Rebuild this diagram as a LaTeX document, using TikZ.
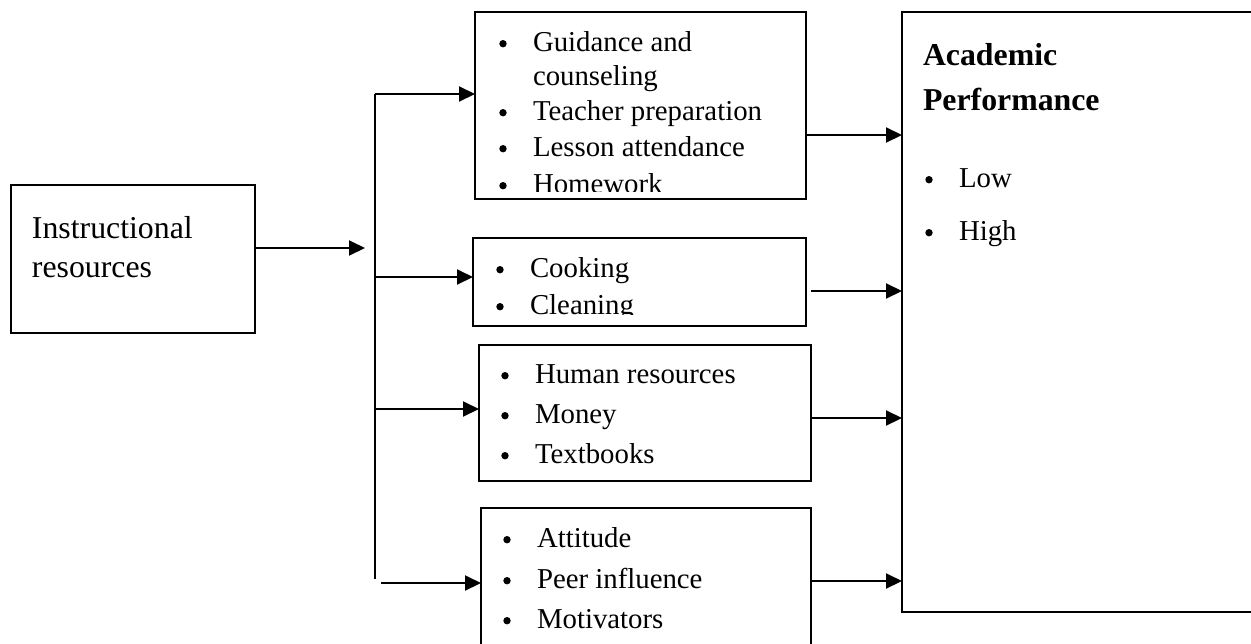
\documentclass[tikz,border=0pt]{standalone}
\usepackage{fontspec}
\setmainfont{Liberation Serif}
\usetikzlibrary{arrows.meta}
\newcommand\mybul{\makebox[17.5pt][l]{\hspace{0.65pt}\tikz[baseline=0pt]\fill (0pt,3.65pt) circle (1.85pt);}}
\begin{document}
\begin{tikzpicture}[x=0.5pt,y=-0.5pt,
  box/.style={draw, line width=1pt, anchor=north west, inner sep=0pt, outer sep=0pt},
  txt/.style={anchor=base west, inner sep=0pt, outer sep=0pt, font=\fontsize{14.4}{17}\selectfont},
  big/.style={anchor=base west, inner sep=0pt, outer sep=0pt, font=\fontsize{15.9}{19}\selectfont},
  bigb/.style={big, font=\fontsize{15.9}{19}\selectfont\bfseries},
  arr/.style={line width=1pt, -{Triangle[length=8pt,width=7.5pt]}},
  ln/.style={line width=1pt}]
\useasboundingbox (0,0) rectangle (1251,643);
\clip (0,0) rectangle (1251,643);

% boxes
\node[box, minimum width=122pt, minimum height=74pt] (inst) at (11,185) {};
\node[box, minimum width=165.5pt, minimum height=93.5pt] (b1) at (475,12) {};
\node[box, minimum width=166.5pt, minimum height=44pt] (b2) at (473,238) {};
\node[box, minimum width=166pt, minimum height=68pt] (b3) at (479,345) {};
\node[box, minimum width=165pt, minimum height=100pt] (b4) at (481,508) {};
\node[box, minimum width=200pt, minimum height=300pt] (acad) at (902,12) {};

% texts
\node[big] (t0a) at (32,238) {Instructional};
\node[big] (t0b) at (32,277) {resources};

\node[txt] (t1a) at (498,51) {\mybul Guidance and};
\node[txt] (t1b) at (533,85) {counseling};
\node[txt] (t1c) at (498,120) {\mybul Teacher preparation};
\node[txt] (t1d) at (498,156) {\mybul Lesson attendance};
\begin{scope}
\clip (475,12) rectangle (806,191);
\node[txt] (t1e) at (498,193) {\mybul Homework};
\end{scope}

\node[txt] (t2a) at (495,277) {\mybul Cooking};
\begin{scope}
\clip (473,238) rectangle (806,314);
\node[txt] (t2b) at (495,314) {\mybul Cleaning};
\end{scope}

\node[txt] (t3a) at (500,383) {\mybul Human resources};
\node[txt] (t3b) at (500,423) {\mybul Money};
\node[txt] (t3c) at (500,463) {\mybul Textbooks};

\node[txt] (t4a) at (502,547) {\mybul Attitude};
\node[txt] (t4b) at (502,588) {\mybul Peer influence};
\node[txt] (t4c) at (502,628) {\mybul Motivators};

\node[bigb] (t5a) at (923,65) {Academic};
\node[bigb] (t5b) at (923,110) {Performance};
\node[txt] (t5c) at (924,187) {\mybul Low};
\node[txt] (t5d) at (924,240) {\mybul High};

% connector points
\coordinate (j0) at (365,248);
\coordinate (vtop) at (375,94);
\coordinate (vbot) at (375,579);
\coordinate (c2) at (375,277);
\coordinate (c3) at (375,409);
\coordinate (c4) at (381,583);
\coordinate (o1) at (806,135);
\coordinate (o2) at (811,291);
\coordinate (o3) at (811,418);
\coordinate (o4) at (811,581);

% connectors
\draw[arr] (inst.east |- j0) -- (j0);
\draw[ln] (vbot) -- (vtop);
\draw[arr] (vtop) -- (vtop -| b1.west);
\draw[arr] (c2) -- (c2 -| b2.west);
\draw[arr] (c3) -- (c3 -| b3.west);
\draw[arr] (c4) -- (c4 -| b4.west);
\draw[arr] (o1 -| b1.east) -- (o1 -| acad.west);
\draw[arr] (o2) -- (o2 -| acad.west);
\draw[arr] (o3 -| b3.east) -- (o3 -| acad.west);
\draw[arr] (o4 -| b4.east) -- (o4 -| acad.west);
\end{tikzpicture}
\end{document}
